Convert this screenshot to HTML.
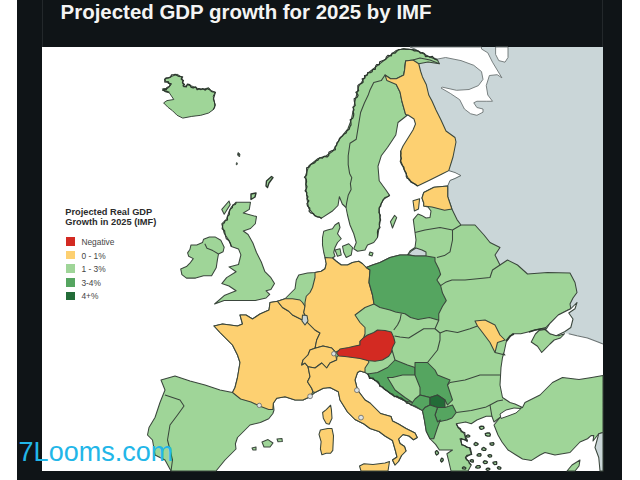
<!DOCTYPE html>
<html><head><meta charset="utf-8"><style>
html,body{margin:0;padding:0;background:#fff;width:640px;height:480px;overflow:hidden}
#wrap{position:relative;width:640px;height:480px}
svg{position:absolute;left:0;top:0}
.t{position:absolute;font-family:"Liberation Sans",sans-serif;white-space:nowrap}
</style></head><body><div id="wrap">
<svg width="640" height="480" viewBox="0 0 640 480">
<rect x="17" y="0" width="605" height="480" fill="#0f1417"/>
<rect x="42" y="0" width="1" height="47" fill="#23282b"/>
<rect x="602" y="0" width="1" height="47" fill="#23282b"/>
<rect x="42" y="47" width="561" height="424" fill="#ffffff"/>
<polygon points="412,47 603,47 603,344 598,342 587.5,338 577,335.8 568.75,333.75 540,330 500,330 480,335 440,260 438,190 430,120 415,60" fill="#cad6d8" stroke="#3a463c" stroke-width="0" stroke-linejoin="round" />
<polyline points="603,344 598,342 587.5,338 577,335.8 568.75,333.75" fill="none" stroke="#6c7474" stroke-width="1.05" stroke-linejoin="round"/>
<polygon points="410,47 481.5,47 481.5,49 487.8,52.8 492.5,62.2 497.2,70 501.9,77.8 497.2,74.7 489.4,75.5 486.25,85.6 487.8,95 492.5,101.25 486.25,101.25 476.9,101.25 473.75,102.8 476.9,107.5 483,109 483,112.2 476.9,115.3 470.6,113.75 464.4,109 459.7,99.7 450.3,93.4 441,88 442.5,87.2 456.5,90.3 469,89.5 478.4,85.6 483,79.4 481.5,71.6 473.75,65.3 461,60.6 445.6,57.5 437.8,59 430,57 422,53 415,49" fill="#ffffff" stroke="#6c7474" stroke-width="0.9" stroke-linejoin="round" />
<polygon points="495.6,47 508,47 508,57.5 505,62.2 498.75,60.6 495.6,54.4" fill="#ffffff" stroke="#6c7474" stroke-width="0.9" stroke-linejoin="round" />
<polygon points="417.5,186 430,180 442.5,173.75 448.75,170.6 455,172 461,174.8 455,178 450,180 447.7,186 434,187.3 423.75,192.5 415,195" fill="#ffffff" stroke="#3a463c" stroke-width="0" stroke-linejoin="round" />
<polyline points="448.75,170.6 455,172.5 461,175.5 455,178.5 450,180.5 447.7,186" fill="none" stroke="#5f6a6a" stroke-width="1.0" stroke-linejoin="round"/>
<polygon points="164.75,79.3 170.4,77 177.1,74.2 181.6,77 182.8,82.6 183.9,87.1 187.3,84.9 191.8,86 197.4,88.3 203,89.4 208.7,87.7 210.9,90.5 215.4,92.2 213.2,96.1 214.3,101.8 215.4,105.1 213.2,109.7 208.7,113 200.8,115.3 191.8,116.4 182.8,118.1 177.1,115.3 172.6,110.8 168.1,107.4 163.6,102.9 167,100.6 173.8,99.5 171.5,96.1 169.3,92.8 164.75,91.6 162.5,88.8 168.1,88.3 170.4,84.9 165.9,81.5" fill="#9fd598" stroke="#3a463c" stroke-width="1.0" stroke-linejoin="round" />
<polygon points="236.1,202.2 250.5,202.2 249.3,209.4 243.3,213 256.5,216.6 255.3,223.75 250.5,228.5 243.3,231 248.1,234.5 252.9,243 256.5,252.5 261.3,262 264.9,271.7 270.9,277.65 274.5,283.6 270.9,289.6 266.1,290.8 269.7,294.4 266.1,298 255.3,300.4 245.7,300.4 233.75,300.4 224.2,300.4 214.6,304 224.2,295.6 236.1,290.8 229,286 221.8,283.6 226.6,277.65 236.1,271.7 229,266.9 238.5,264.5 240.9,254.9 238.5,248.9 231.35,246.5 229,240.5 224.2,233.3 221.8,223.75 226.6,219 229,211.8 231.35,207" fill="#9fd598" stroke="#3a463c" stroke-width="1.05" stroke-linejoin="round" />
<polygon points="221.8,209.4 229,201 230.2,204.6 224.2,214.2" fill="#9fd598" stroke="#3a463c" stroke-width="1.05" stroke-linejoin="round" />
<polygon points="271.5,176.5 273,177.5 269,183 267.5,187.5 266,186 266.5,181" fill="#9fd598" stroke="#2c372e" stroke-width="1.4" stroke-linejoin="round" />
<polygon points="251,194 256,193 255,197 251,199.5" fill="#9fd598" stroke="#2c372e" stroke-width="1.4" stroke-linejoin="round" />
<polygon points="238,152.5 240,154 239.5,157 237.5,155" fill="#3a453c" stroke="#3a463c" stroke-width="0.8" stroke-linejoin="round" />
<polygon points="236.5,162.5 237.5,163 237,165 236,164.5" fill="#3a453c" stroke="#3a463c" stroke-width="0.6" stroke-linejoin="round" />
<polygon points="191,244.9 196.75,244.9 202.5,242.6 203.6,239.2 209.4,236.9 215,236.9 220.8,240.3 224.2,247.2 223.1,251.75 218.5,254 217.4,259.8 216.2,267.8 211.6,275.8 203.6,275.8 195.6,278.1 186.45,278.1 181.9,274.7 180.7,268.9 186.45,266.6 189.9,263.2 193.3,258.6 188.7,256.3 187.6,252.9 189.9,249.5" fill="#9fd598" stroke="#3a463c" stroke-width="1.05" stroke-linejoin="round" />
<polyline points="204.8,243.7 207,248.3 212.8,250.6 218.5,254" fill="none" stroke="#3a463c" stroke-width="1.05" stroke-linejoin="round"/>
<polygon points="321.9,217.9 314.6,215.7 308.8,208.4 307.3,201 305.8,186.5 305.8,174.8 308.8,166 317.5,158.8 326.3,155.8 333,151 339.6,139.2 347.9,128.75 351.25,120 355,101.25 358.75,86.25 368,73 377.5,65.6 387,58 396,50.6 403.75,48.75 415,49.7 422.5,53.4 428,56.25 437.5,60 439.4,63.75 428,62 418.75,63.75 405.6,61 404.7,69.4 403.75,75 396.25,84.4 400,91.9 401.9,101.25 405.6,114.4 407.5,115 398,122.5 395.8,135 387.5,147.5 381.25,155.8 378,166.25 379.2,180.8 385.4,189.2 389.6,195.4 383.3,199.6 379.2,207.9 380,222.5 377.5,237.5 373.75,242.5 367.5,245 365,250 357.5,251.25 353.75,248.75 356.25,242.5 353.75,233.75 350,225 347.5,215 346,207.5 342.3,204 339.4,196.7 338,205.5 332.1,211.3" fill="#9fd598" stroke="#3a463c" stroke-width="1.05" stroke-linejoin="round" />
<polyline points="439.4,63.75 430,60 420,58 413,60 405.6,61 404.7,69.4 403.75,75 396.25,78.75 390.6,78.75 385,75 381.25,80.6 373.75,82.5 370,90 368,95.6 364.4,103 360.6,112.5 358.75,123.75 358.3,126.7 356.25,139.2 350,143.3 348.2,155.8 348.2,164.6 349.6,173.4 351.8,177.7 350.4,183.6 351.1,189.4 348.2,195.3 346.7,202.6 346,207.5" fill="none" stroke="#3a463c" stroke-width="1.05" stroke-linejoin="round"/>
<polygon points="405.6,61 413,60 418.75,63.75 420.6,71.25 422.5,76.9 426.25,84.4 428.75,95 432,101 436,110 441,120 446,131 455,137.5 456,142 453,157 448.75,170.6 442.5,173.75 430,180 417.5,186 409,180 405,171.7 400.8,161 400.8,151 403,146 408,138 413,130 415.5,124 414,119 408,115 405.6,114.4 401.9,101.25 400,91.9 396.25,84.4 386.9,80.6 385,75 390.6,78.75 396.25,78.75 403.75,75 404.7,69.4" fill="#fdd071" stroke="#3a463c" stroke-width="1.05" stroke-linejoin="round" />
<polygon points="390.4,221.7 394.6,215.4 396.7,217.5 392.5,228" fill="#9fd598" stroke="#3a463c" stroke-width="1.05" stroke-linejoin="round" />
<polygon points="370,252 373,253 372,256 369,255" fill="#9fd598" stroke="#3a463c" stroke-width="1.05" stroke-linejoin="round" />
<polygon points="325,257.5 323.75,252.5 322.5,245 322.5,237.5 323.75,231.25 327.5,230 332.5,228.75 335,225 338.75,222.5 340,227.5 337.5,233.75 341.25,238.75 337.5,242.5 335,247.5 333.75,252.5 335,256.25 332.5,258 336.25,261.25 341.25,265 347.5,265 352.5,262.5 358.75,261.25 362.5,263.75 366.25,267.5 372.5,265 380,262.5 390,257.5 400,255 407.5,255 410,251 415,247.5 416,240 415,232.5 414,225 413.3,219.6 418,214 421.7,215.4 426,218 430,217.5 431,211 428,207 423.75,206 423.75,203 422,198 423.75,192.5 434,187.3 447.7,186 447.7,196.7 451.9,209 457,219.6 461,225 475,225 484,235 490,242.5 500,247.5 495,255 500,265 507.5,260 517.5,265 527.5,274 547.5,272.5 570,273 575,282.5 577,292.5 573,298 570,304 570.8,308.75 566.7,310.8 558.3,315 550,323.3 545.8,327.5 537.5,329.6 529,331.7 520.8,333.75 512.5,333.75 506.25,342 504,352.5 502.5,357.5 501,367.5 500,385 502.5,397.5 510,402.5 515,404 522.5,407.5 512.5,412.5 500,417.5 494,422 491.9,416.25 486.25,416.25 476.9,420 471.25,423.75 465.6,421.9 456.25,423.75 458,427.5 463.75,433 467.5,440.6 460,438.75 461.9,444.4 469.4,448 471.25,453.75 465.6,457.5 471.25,465 468,471 451,471 448.75,461.25 446.9,453.75 452.5,450 445,450 439.4,450 435.6,444.4 430,438.75 426.25,431.25 424.4,420 422.5,410.6 411.25,405 405,401 392.5,395 382.5,387.5 375,380 370,377.5 367.5,374 365,372.5 360,371 357.5,372.5 355,380 357.5,390 365,400 370,403 374.5,407.5 380.5,413.5 391,416.5 392.5,421 398.5,424 406,428.5 415,433 417.25,437.5 413.5,439.75 409,436 403,434.5 398.5,439 400,443.5 404.5,446.5 406,451 401.5,455.5 398.5,461.5 395,465 392.5,460 397,457 395.5,451 392.5,440.5 385,436 379,431.5 370,428.5 364,424 355,419.5 347.5,412 340,400 338.3,391.7 330,387.5 323.3,388.3 315,392.5 310,396.7 303,400 295,400 285,396.7 276.7,398.3 273.3,403.3 274,410 272.9,413.5 268.75,418.75 260.4,422.4 250,425 243.75,431.25 237.5,437.5 235.4,443.75 236,449 225,460 216,471 171,471 165,460 155,455 152.5,440 147.5,435 149,427.5 155,417.5 160,402.5 165,390 161,380 175,376 190,381 205,385 220,390 232.5,392.5 235,387.5 237.5,377.5 240,362.5 237.5,355 232.5,345 225,337.5 220,332.5 214,326 222.5,324 237.5,326 242.5,324 240,315 246,315 252.5,319 260,314 269,310 270,302.5 277.5,301.25 285,298.75 290,293.75 295,288.75 296.25,280 298.75,275 307.5,273 315,272.5 321.25,271.25 325,268.75 326.25,263.75" fill="#9fd598" stroke="#3a463c" stroke-width="1.05" stroke-linejoin="round" />
<polygon points="408,254.5 412,250.5 416,248 422,250 426,252 426,256 415,256" fill="#cad6d8" stroke="#3a463c" stroke-width="1.05" stroke-linejoin="round" />
<polygon points="277.5,301.25 282.5,307.5 288.75,311.25 292.5,315 297.5,317.5 302.5,320 307.5,322.5 315,330 320,333 316.7,340 315,348.3 310,350 308,355 303,360 301.7,365 305,363 308,366.7 310,376.7 307.5,381.7 311.7,388.3 313,391.7 310,396.7 303,400 295,400 285,396.7 276.7,398.3 273.3,403.3 272.9,409.4 268.75,409.4 259.4,406 251,402 240.6,399 232.5,392.5 235,387.5 237.5,377.5 240,362.5 237.5,355 232.5,345 225,337.5 220,332.5 214,326 222.5,324 237.5,326 242.5,324 240,315 246,315 252.5,319 260,314 269,310 270,302.5" fill="#fdd071" stroke="#3a463c" stroke-width="1.05" stroke-linejoin="round" />
<polygon points="277.5,301.25 285,298.75 292.5,298.75 300,300 302.5,302.5 305,306.25 303.75,312.5 305,315 302.5,320 297.5,317.5 292.5,315 288.75,311.25 282.5,307.5" fill="#fdd071" stroke="#3a463c" stroke-width="1.05" stroke-linejoin="round" />
<polygon points="325,257.5 332.5,258 336.25,261.25 341.25,265 347.5,265 352.5,262.5 358.75,261.25 362.5,263.75 366.25,267.5 370,270 369,282.5 372.5,295 374,304 365,307.5 355,315 360,322.5 365,327.5 365,333.75 363.75,337.5 360,341.25 360,345 355,346.9 348.75,348.75 340,350 336,352 335,351.7 331.7,348 323,346 315,348.3 316.7,340 320,333 315,330 307.5,322.5 305,315 303.75,312.5 305,306.25 305,302.5 306.25,296.25 310,292.5 312.5,287.5 315,277.5 315,272.5 321.25,271.25 325,268.75 326.25,263.75" fill="#fdd071" stroke="#3a463c" stroke-width="1.05" stroke-linejoin="round" />
<polygon points="302.5,315 307,315.5 308,321 305,325 302,321" fill="#cad6d8" stroke="#3a463c" stroke-width="1.05" stroke-linejoin="round" />
<polygon points="315,348.3 323,346 331.7,348 335,351.7 336.7,360 330,363 326.7,368 321.7,363 315,368 308,366.7 305,363 301.7,365 303,360 308,355 310,350" fill="#fdd071" stroke="#3a463c" stroke-width="1.05" stroke-linejoin="round" />
<polygon points="308,366.7 315,368 321.7,363 326.7,368 330,363 336.7,360 336.9,357 338.75,355 345,355 352.5,356.25 360,357.5 367.5,360 369,362 365,368 365,372.5 360,371 357.5,372.5 355,380 357.5,390 365,400 370,403 374.5,407.5 380.5,413.5 391,416.5 392.5,421 398.5,424 406,428.5 415,433 417.25,437.5 413.5,439.75 409,436 403,434.5 398.5,439 400,443.5 404.5,446.5 406,451 401.5,455.5 398.5,461.5 395,465 392.5,460 397,457 395.5,451 392.5,440.5 385,436 379,431.5 370,428.5 364,424 355,419.5 347.5,412 340,400 338.3,391.7 330,387.5 323.3,388.3 315,392.5 313,391.7 311.7,388.3 307.5,381.7 310,376.7" fill="#fdd071" stroke="#3a463c" stroke-width="1.05" stroke-linejoin="round" />
<polygon points="366.25,267.5 372.5,265 380,262.5 390,257.5 400,255 407.5,255 415,256 426,256 435,257.5 435,261.25 438.75,268.75 440.6,274.4 436.9,280 440.6,285.6 442.5,293.1 446.25,300.6 442.5,306.25 438.75,313.75 438.75,320.3 429.4,317.5 418.1,319.4 410.6,317.5 405,313.75 395.6,311.9 390,310 380,307.5 374,304 372.5,295 369,282.5 370,270" fill="#55a560" stroke="#3a463c" stroke-width="1.05" stroke-linejoin="round" />
<polygon points="336.5,353 340,349 348.75,347.5 355,346 360,345 360,341.25 363.75,337.5 367.5,335 373.75,332.5 377.5,330 385,330.6 391.25,331.9 393.75,337.5 395,342.5 392.5,347.5 391.25,352.5 388.75,356.25 382.5,360 375,361.25 367.5,360.5 360,358.5 352.5,357.5 345,356.5 338.75,356" fill="#d32a22" stroke="#3a463c" stroke-width="1.05" stroke-linejoin="round" />
<polygon points="367.5,374 377.5,372.5 387.5,367.5 395,360 407.5,365 415,367.5 415,375 402.5,375 392.5,377.5 387.5,377.5 395,390 405,397.5 412.5,402.5 405,401 392.5,395 382.5,387.5 375,380 370,377.5" fill="#55a560" stroke="#3a463c" stroke-width="1.05" stroke-linejoin="round" />
<polygon points="415,362.5 427.5,362.5 435,370 437.5,375 450,380 447.5,385 452.5,400 447.5,405 445,400 437.5,395 430,397.5 420,395 420,387.5 415,375 415,367.5" fill="#55a560" stroke="#3a463c" stroke-width="1.05" stroke-linejoin="round" />
<polygon points="412.5,402.5 415,399 420,395 430,397.5 430,405 425,407.5 422.5,410.6 415,406 411.25,405" fill="#55a560" stroke="#3a463c" stroke-width="1.05" stroke-linejoin="round" />
<polygon points="430,397.5 437.5,395 445,400 445,407.5 437.5,407.5 430,405" fill="#236c38" stroke="#3a463c" stroke-width="1.05" stroke-linejoin="round" />
<polygon points="437.5,407.5 445,407.5 452.5,405 456.25,412.5 452,418 446.9,420 437.5,421.9 435,415" fill="#55a560" stroke="#3a463c" stroke-width="1.05" stroke-linejoin="round" />
<polygon points="422.5,410.6 425,407.5 430,405 437.5,407.5 435,415 437.5,421.9 440.3,420 437.5,427.5 433.75,438.75 430,438.75 426.25,431.25 424.4,420" fill="#55a560" stroke="#3a463c" stroke-width="1.05" stroke-linejoin="round" />
<polygon points="423.75,192.5 434,187.3 447.7,186 447.7,196.7 451.9,209 444.6,210.2 432,207 423.75,206 423.75,203 422,198" fill="#fdd071" stroke="#3a463c" stroke-width="1.05" stroke-linejoin="round" />
<polygon points="413,200.8 419.6,198.75 418.5,209 414.4,211" fill="#fdd071" stroke="#3a463c" stroke-width="1.05" stroke-linejoin="round" />
<polygon points="475,321 485,320 495,325 500,335 505,340 497.5,342.5 495,352.5 490,342.5 482.5,332.5 477.5,326" fill="#fdd071" stroke="#3a463c" stroke-width="1.05" stroke-linejoin="round" />
<polygon points="531.25,342 535.4,334 539,330.5 545,329.5 550,333.75 558.3,335.8 564.6,333.75 560.4,338 554.2,340 550,344 543.75,350.4 541.7,352.5 537.5,346.25" fill="#9fd598" stroke="#3a463c" stroke-width="1.05" stroke-linejoin="round" />
<polygon points="577,302.5 570.8,308.75 566.7,310.8 558.3,315 550,323.3 545.8,329.6 550,333.75 556.25,335.8 564.6,331.7 570.8,327.5 573,319 568.75,313 575,308.75" fill="#ffffff" stroke="#3a463c" stroke-width="1.05" stroke-linejoin="round" />
<polyline points="529,332 535,330 541,329 546,329" fill="none" stroke="#2c372e" stroke-width="1.6" stroke-linejoin="round"/>
<polyline points="506,341 510,336 514,334" fill="none" stroke="#2c372e" stroke-width="1.5" stroke-linejoin="round"/>
<polyline points="401.25,313.75 400,320 397.5,325 393.75,330" fill="none" stroke="#3a463c" stroke-width="1.05" stroke-linejoin="round"/>
<polyline points="394.5,336 400,337 408.75,338 423.75,328.75 435,328.75 438.75,320.3" fill="none" stroke="#3a463c" stroke-width="1.05" stroke-linejoin="round"/>
<polyline points="435,328.75 440,333 440,340 437.5,350 427.5,362.5" fill="none" stroke="#3a463c" stroke-width="1.05" stroke-linejoin="round"/>
<polyline points="392,350 395,360" fill="none" stroke="#3a463c" stroke-width="1.05" stroke-linejoin="round"/>
<polyline points="415,232.5 425,230 440,227.5 452.5,230 461,225" fill="none" stroke="#3a463c" stroke-width="1.05" stroke-linejoin="round"/>
<polyline points="452.5,230 452.5,240 450,251.9 444.4,255.6 436.9,257.5" fill="none" stroke="#3a463c" stroke-width="1.05" stroke-linejoin="round"/>
<polyline points="440.6,285.6 446.25,281.9 451.9,280 465,280 490,277.5 492.5,270 500,265" fill="none" stroke="#3a463c" stroke-width="1.05" stroke-linejoin="round"/>
<polyline points="440,333 446.25,330.6 457.5,332.5 470,328.75 477.5,326" fill="none" stroke="#3a463c" stroke-width="1.05" stroke-linejoin="round"/>
<polyline points="495,352.5 505,355 503,353" fill="none" stroke="#3a463c" stroke-width="1.05" stroke-linejoin="round"/>
<polyline points="447.5,385 450,382.5 465,380 480,375 500,375" fill="none" stroke="#3a463c" stroke-width="1.05" stroke-linejoin="round"/>
<polyline points="456.25,412.5 471.25,410.6 486.25,406.9 490,405 497.5,401 503,400" fill="none" stroke="#3a463c" stroke-width="1.05" stroke-linejoin="round"/>
<polyline points="490,405 491.9,416.25" fill="none" stroke="#3a463c" stroke-width="1.05" stroke-linejoin="round"/>
<polyline points="165,395 180,400 184,406 177.5,415 170,425 167.5,440 172.5,460 171,471" fill="none" stroke="#3a463c" stroke-width="1.05" stroke-linejoin="round"/>
<polygon points="522.5,407.5 525,402.5 540,395 552.5,382.5 562.5,377.5 579,379.6 591.7,377.5 603,375.4 603,432.5 598.75,433.75 593,441 593.75,435.6 591,435.6 587.5,438.75 580,442 570,452.5 555,455 545,452.5 540,455 531.5,460.4 522.5,459 516,455 508,450 502,442 498,435 494,425 500,417.5 514.4,410.6" fill="#9fd598" stroke="#3a463c" stroke-width="1.05" stroke-linejoin="round" />
<polygon points="603,432.5 598.75,433.75 595,447.5 598.75,457.5 600,471 603,471" fill="#cad6d8" stroke="#3a463c" stroke-width="1.05" stroke-linejoin="round" />
<polygon points="330.6,405.2 331.4,409.6 332,418.3 329.2,424.2 326.25,423.4 323.3,418.3 322.6,412.5 326.25,409.6" fill="#fdd071" stroke="#3a463c" stroke-width="1.05" stroke-linejoin="round" />
<polygon points="327.7,428.5 332,428.5 333.5,435.8 332.8,450.4 330.6,453.3 326.25,453.3 321.9,454.8 320.4,449 321.1,441.7 319,434.4 320.4,430" fill="#fdd071" stroke="#3a463c" stroke-width="1.05" stroke-linejoin="round" />
<polygon points="359.5,466 364,463.75 373,464.5 385,463 389.5,461.5 388,471 361,471" fill="#fdd071" stroke="#3a463c" stroke-width="1.05" stroke-linejoin="round" />
<polygon points="262,442 268,439.6 273,443 270,447 264,447" fill="#9fd598" stroke="#3a463c" stroke-width="1.05" stroke-linejoin="round" />
<polygon points="277,439 282,438.5 282.3,441.5 278,441.7" fill="#9fd598" stroke="#3a463c" stroke-width="1.05" stroke-linejoin="round" />
<polygon points="252,448 256,447 256,450 253,450" fill="#9fd598" stroke="#3a463c" stroke-width="1.05" stroke-linejoin="round" />
<polygon points="567,471 572,465 580,460 579,466 575,471" fill="#9fd598" stroke="#3a463c" stroke-width="1.05" stroke-linejoin="round" />
<polygon points="500,414 506,410 514,408 521,408.5 516,413 508,416 501,418.5" fill="#ffffff" stroke="#3a463c" stroke-width="1.0" stroke-linejoin="round" />
<polygon points="484.147,428 482.766,429.003 481.253,429.47 479.945,428.634 479.39,427.166 481.145,426.178 483.415,426.387" fill="#9fd598" stroke="#2c372e" stroke-width="1.3" stroke-linejoin="round" />
<polygon points="490.379,434.5 489.818,436.209 487.491,436.173 485.667,435.343 485.253,433.508 487.492,432.831 489.595,433" fill="#9fd598" stroke="#2c372e" stroke-width="1.3" stroke-linejoin="round" />
<polygon points="494.05,444 493.213,445.216 491.639,445.264 490.208,444.69 490.009,443.233 491.687,442.903 493.375,442.62" fill="#9fd598" stroke="#2c372e" stroke-width="1.3" stroke-linejoin="round" />
<polygon points="469.888,436 468.977,436.952 467.688,437.062 466.089,436.716 466.592,435.473 467.701,434.981 468.84,435.181" fill="#9fd598" stroke="#2c372e" stroke-width="1.3" stroke-linejoin="round" />
<polygon points="478.247,444 477.249,445.097 475.509,445.506 474.081,444.647 474.256,443.412 475.472,442.38 477.109,443.027" fill="#9fd598" stroke="#2c372e" stroke-width="1.3" stroke-linejoin="round" />
<polygon points="486.147,449 485.529,450.307 483.506,450.476 481.759,449.736 482.04,448.357 483.485,447.461 484.992,448.152" fill="#9fd598" stroke="#2c372e" stroke-width="1.3" stroke-linejoin="round" />
<polygon points="481.116,455 480.369,456.057 478.572,456.154 477.088,455.567 477.242,454.479 478.515,453.691 480.65,453.727" fill="#9fd598" stroke="#2c372e" stroke-width="1.3" stroke-linejoin="round" />
<polygon points="491.765,456 491.104,456.969 489.642,457.098 488.498,456.506 487.895,455.29 489.544,454.602 491.253,454.9" fill="#9fd598" stroke="#2c372e" stroke-width="1.3" stroke-linejoin="round" />
<polygon points="473.414,461 473.195,462.082 471.687,461.991 470.557,461.502 470.062,460.326 471.591,459.707 473.098,460.005" fill="#9fd598" stroke="#2c372e" stroke-width="1.3" stroke-linejoin="round" />
<polygon points="487.502,462 486.678,463.315 484.419,463.591 483.239,462.53 483.452,461.534 484.542,460.746 486.248,461.022" fill="#9fd598" stroke="#2c372e" stroke-width="1.3" stroke-linejoin="round" />
<polygon points="496.772,463 496.607,464.282 494.443,464.554 493.301,463.521 492.963,462.376 494.56,461.775 496.587,461.733" fill="#9fd598" stroke="#2c372e" stroke-width="1.3" stroke-linejoin="round" />
<polygon points="480.417,467 479.349,467.976 477.524,468.204 475.703,467.638 476.052,466.459 477.426,465.549 479.862,465.653" fill="#9fd598" stroke="#2c372e" stroke-width="1.3" stroke-linejoin="round" />
<polygon points="489.979,469 489.111,469.823 487.413,470.519 486.108,469.539 486.522,468.58 487.646,468.083 489.035,468.233" fill="#9fd598" stroke="#2c372e" stroke-width="1.3" stroke-linejoin="round" />
<polygon points="501.027,468 500.367,469.028 498.595,469.066 497.681,468.381 497.395,467.536 498.467,466.598 500.203,467.095" fill="#9fd598" stroke="#2c372e" stroke-width="1.3" stroke-linejoin="round" />
<polygon points="465.897,468 465.128,469.061 463.749,468.826 462.471,468.552 462.5,467.458 463.655,466.867 464.831,467.218" fill="#9fd598" stroke="#2c372e" stroke-width="1.3" stroke-linejoin="round" />
<polygon points="438.633,453 437.754,454.3 436.673,454.968 435.664,453.885 435.303,451.877 436.595,450.559 437.83,451.569" fill="#9fd598" stroke="#2c372e" stroke-width="1.3" stroke-linejoin="round" />
<polygon points="443.33,460 442.689,461.111 441.64,462.029 440.568,460.887 440.929,459.337 441.682,458.211 442.877,458.586" fill="#9fd598" stroke="#2c372e" stroke-width="1.3" stroke-linejoin="round" />
<polygon points="335,250 340,248.75 341.25,255 337.5,256.25" fill="#9fd598" stroke="#3a463c" stroke-width="1.05" stroke-linejoin="round" />
<polygon points="342.5,246.25 348.75,243.75 352.5,247.5 351.25,255 346.25,257.5 343.75,252.5" fill="#9fd598" stroke="#3a463c" stroke-width="1.05" stroke-linejoin="round" />
<polyline points="321.658,218.703 319.508,217.031 316.913,216.832 314.86,215.493 313.465,213.625 310.611,212.915 309.03,211.194 309.858,208.185 307.545,206.086 306.967,203.636 308.878,200.837 306.991,198.938 307.942,196.746 306.582,194.794 306.886,192.668 305.116,190.758 306.444,188.527 306.978,186.5 305.874,184.16 306.572,181.82 306.349,179.48 304.405,177.14 306.582,175.067 306.826,172.694 306.698,170.195 306.63,167.716 309.546,166.901 310.484,164.493 312.726,163.659 314.793,162.614 316.197,160.768 317.935,160.075 319.592,157.732 322.211,158.211 324.043,156.382 327.112,156.933 328.681,155.586 328.9,152.353 330.647,151.253 332.21,150.558 335.4,149.76 335.022,146.967 336.654,145.298 336.844,142.823 338.52,141.178 339.314,138.973 340.61,137.162 342.58,135.886 343.961,134.143 346.146,133.038 346.973,130.854 349.182,129.241 349.803,126.97 351.042,124.937 350.924,122.383 350.193,119.789 352.798,118.143 353.541,116.125 353.77,114.004 353.134,111.71 354.004,109.718 352.844,107.319 355.207,105.625 354.814,103.379 354.332,101.083 354.18,98.7683 357.17,97.239 358.128,95.2016 355.865,92.3592 358.612,90.769 357.936,88.3234 357.834,85.6103 359.365,84.2162 361.768,83.4299 363.197,81.9641 362.179,78.7901 364.832,78.1785 364.493,75.4789 367.417,75.0564 367.668,72.5732 370.332,72.7283 372.112,71.7467 372.761,69.3137 375.314,69.3252 375.542,66.3528 376.654,64.5429 379.283,64.5826 379.73,61.8957 381.645,61.0438 383.649,60.3033 385.637,59.5427 386.301,57.1502 387.87,55.389 391.347,55.9491 392.022,53.0998 395.132,53.2137 396.295,51.8346 398.493,49.6029 401.137,49.2434 403.745,48.814 405.961,49.3988 408.224,49.435 410.484,49.509 412.718,49.893 414.376,50.9645 416.865,50.6452 418.847,51.3525 420.313,53.1072 422.886,52.6546 424.626,53.7848 425.463,56.6575 427.975,56.3129 429.843,57.1442 432.374,56.2959 433.8,58.2476 435.506,59.488 437.5,60" fill="none" stroke="#2c372e" stroke-width="1.2" stroke-linejoin="round"/>
<polyline points="169.394,92.4435 167.21,91.4986 165.44,91.0453 162.618,90.1221 164.431,89.3502 166.346,89.7286 166.93,87.5083 169.165,86.5422 171.202,83.8388 169.169,83.4101 168.125,81.6737 164.872,82.0376 164.715,79.2141 166.347,77.8292 168.566,77.8883 170.486,77.2047 171.512,74.9523 173.422,74.8159 175.17,74.2896 176.44,75.2605 178.929,76.2768 182.599,76.786 181.128,79.0534 183.46,80.5063 182.458,82.6837 184.438,84.5841 183.088,85.8451 186.205,86.9355 187.507,84.0533 189.753,84.6209 191.25,87.3387 193.242,87.8001 195.773,86.9486 197.133,89.6585 199.244,88.7821 201.031,89.5568 202.747,88.5513 205.278,90.1011 206.963,88.8147 207.599,88.5648 210.9,90.5" fill="none" stroke="#2c372e" stroke-width="1.3" stroke-linejoin="round"/>
<polyline points="210.651,91.1586 212.877,92.0728 215.431,92.2176 214.798,94.4311 214.377,95.8728 213.366,99.024 214.368,101.777 214.838,104.831 214.575,107.531 213.2,109.7" fill="none" stroke="#2c372e" stroke-width="1.1" stroke-linejoin="round"/>
<polyline points="236.451,202.547 235.212,204.488 232.633,205.103 232.425,207.526 230.085,209.356 229.357,211.919 229.374,214.591 227.38,216.593 227.511,219.92 225.131,220.715 224.247,223.023 222.911,223.471 222.605,226.086 222.112,228.748 224.622,230.656 224.845,232.87 225.503,235.898 226.357,238.795 228.799,240.579 230.444,243.394 231.35,246.5" fill="none" stroke="#2c372e" stroke-width="1.1" stroke-linejoin="round"/>
<polyline points="368.034,373.619 369.504,378.492 372.901,377.948 374.652,380.348 377.579,381.171 379.179,383.321 379.778,386.472 382.918,386.942 384.296,389.272 386.559,390.422 388.567,391.91 390.507,393.49 392.82,394.334 394.24,396.715 397.093,396.112 399.026,397.425 401.332,397.961 403.159,399.495 405.119,400.813 406.563,403.146 409.323,403.422 411.25,405" fill="none" stroke="#2c372e" stroke-width="1.1" stroke-linejoin="round"/>
<polyline points="456.33,423.712 458.21,427.28 460.516,428.706 461.225,431.802 464.812,432.476 464.994,435.536 465.393,438.49 467.259,441.577 465.031,439.857 462.567,439.095 461.044,438.399 461.225,441.482 461.689,444.84 464.45,445.496 466.666,447.287 470.183,447.748 470.924,450.682 471.766,454.528 469.358,454.987 466.921,455.402 465.427,457.631 466.487,459.771 468.648,461.082 469.366,463.48 471.25,465" fill="none" stroke="#2c372e" stroke-width="1.1" stroke-linejoin="round"/>
<polyline points="400.657,150.8 400.942,153.35 400.644,155.9 401.388,158.45 400.217,161.229 401.038,163.376 402.194,165.392 403.953,167.172 404.122,169.575 405.31,171.55 406.45,173.558 406.184,176.243 407.105,178.356 409.525,179.256 410.71,182.088 413.131,183.169 415.512,184.307 417.5,186" fill="none" stroke="#2c372e" stroke-width="1.1" stroke-linejoin="round"/>
<polyline points="389.653,195.479 387.434,196.701 384.929,197.494 383.362,199.63 382.261,201.668 381.093,203.673 380.79,206.104 379.176,207.901 379.074,210.348 378.882,212.799 380.411,215.156 380.126,217.612 380.684,220.022 379.389,222.398 379.202,224.936 380.07,227.651 377.799,229.841 377.416,232.347 377.613,234.949 377.5,237.5" fill="none" stroke="#2c372e" stroke-width="1.1" stroke-linejoin="round"/>
<circle cx="333.75" cy="353.75" r="2.2" fill="#dde3e3" stroke="#666" stroke-width="0.8"/>
<circle cx="356.9" cy="390.2" r="2.4" fill="#dde3e3" stroke="#666" stroke-width="0.8"/>
<circle cx="361" cy="417.6" r="2.4" fill="#dde3e3" stroke="#666" stroke-width="0.8"/>
<circle cx="310.1" cy="396.3" r="2.4" fill="#dde3e3" stroke="#666" stroke-width="0.8"/>
<circle cx="259.3" cy="405.4" r="2.2" fill="#dde3e3" stroke="#666" stroke-width="0.8"/>
</svg>
<div class="t" style="left:60.6px;top:-0.5px;font-size:20.45px;font-weight:bold;color:#f4f4f4">Projected GDP growth for 2025 by IMF</div>
<div class="t" style="left:65.3px;top:207.4px;font-size:9.25px;font-weight:bold;color:#2b2b2b">Projected Real GDP</div>
<div class="t" style="left:65.3px;top:217.4px;font-size:9.25px;font-weight:bold;color:#2b2b2b">Growth in 2025 (IMF)</div>
<div style="position:absolute;left:65.5px;top:237px;width:9.3px;height:8.8px;background:#d32a22"></div>
<div style="position:absolute;left:65.5px;top:250.6px;width:9.3px;height:8.8px;background:#fdd071"></div>
<div style="position:absolute;left:65.5px;top:264.3px;width:9.3px;height:8.8px;background:#9fd598"></div>
<div style="position:absolute;left:65.5px;top:277.9px;width:9.3px;height:8.8px;background:#55a560"></div>
<div style="position:absolute;left:65.5px;top:291.6px;width:9.3px;height:8.8px;background:#236c38"></div>
<div class="t" style="left:81.4px;top:237.2px;font-size:8.4px;color:#444">Negative</div>
<div class="t" style="left:81.4px;top:250.8px;font-size:8.4px;color:#444">0 - 1%</div>
<div class="t" style="left:81.4px;top:264.3px;font-size:8.4px;color:#444">1 - 3%</div>
<div class="t" style="left:81.4px;top:277.9px;font-size:8.4px;color:#444">3-4%</div>
<div class="t" style="left:81.4px;top:291.2px;font-size:8.4px;color:#444">4+%</div>
<div class="t" style="left:18.6px;top:436.6px;font-size:27px;color:#22b6e8">7Looms.com</div>

</div></body></html>
